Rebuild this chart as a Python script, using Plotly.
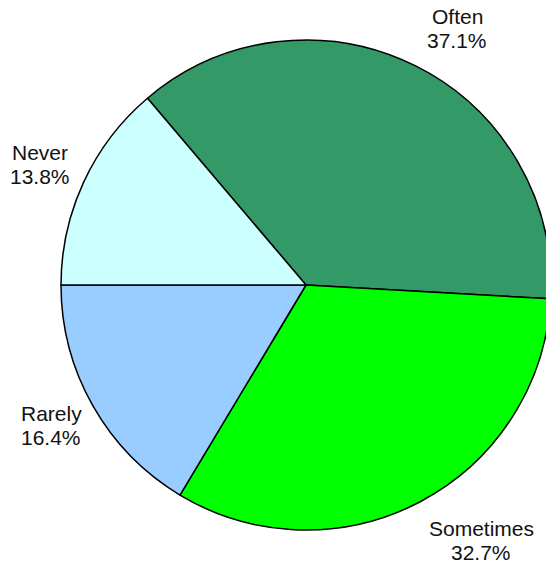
import plotly.graph_objects as go

# Survey answer shares (percent)
labels = ["Often", "Sometimes", "Rarely", "Never"]
values = [37.1, 32.7, 16.4, 13.8]
colors = ["#339966", "#00ff00", "#99ccff", "#ccffff"]

# Label anchor points in pixels (x, y from top-left of the figure)
label_px = [(457, 28), (481, 540), (51, 425), (40, 164)]
line_gap = 24  # vertical distance between the name line and the percent line

W, H = 560, 567
L, R, T, B = 61, 9, 40, 37
plot_w = W - L - R
plot_h = H - T - B

fig = go.Figure(
    go.Pie(
        labels=labels,
        values=values,
        sort=False,
        direction="clockwise",
        rotation=90 - (180 - 360 * values[-1] / 100),
        marker=dict(colors=colors, line=dict(color="black", width=1.5)),
        textinfo="none",
        hoverinfo="label+percent",
        showlegend=False,
    )
)

font = dict(family="Liberation Sans, Arial, sans-serif", size=21, color="#111111")
for name, val, (px, py) in zip(labels, values, label_px):
    for txt, dy in ((name, -line_gap / 2), (f"{val:.1f}%", line_gap / 2)):
        fig.add_annotation(
            x=(px - L) / plot_w,
            y=1 - (py + dy - T) / plot_h,
            xref="paper",
            yref="paper",
            text=txt,
            showarrow=False,
            xanchor="center",
            yanchor="middle",
            font=font,
        )

fig.update_layout(
    width=W,
    height=H,
    margin=dict(l=L, r=R, t=T, b=B),
    paper_bgcolor="white",
    plot_bgcolor="white",
)

fig.write_html(
    "out.html",
    post_script="document.documentElement.style.overflow='hidden';document.body.style.overflow='hidden';document.body.style.margin='0';",
)
